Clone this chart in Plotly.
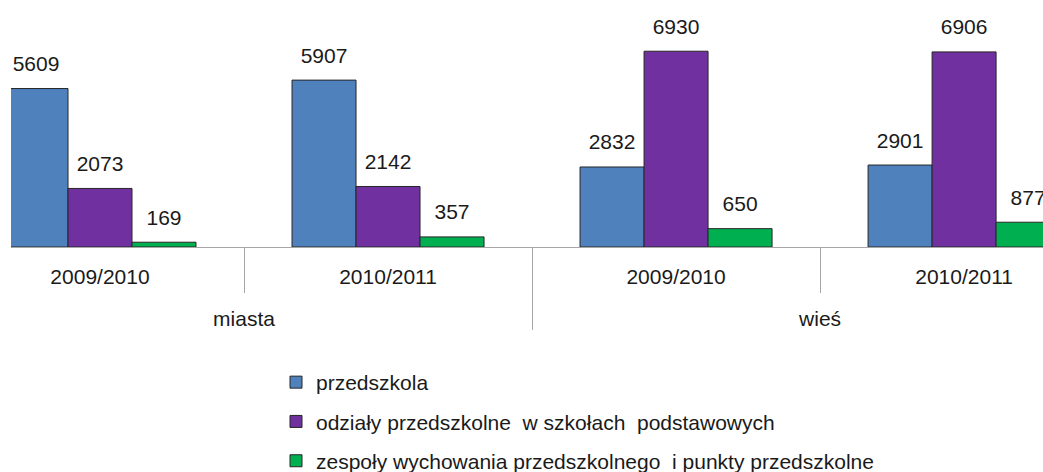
import plotly.graph_objects as go

areas = ["miasta", "miasta", "wieś", "wieś"]
years = ["2009/2010", "2010/2011", "2009/2010", "2010/2011"]
series_names = [
    "przedszkola",
    "odziały przedszkolne  w szkołach  podstawowych",
    "zespoły wychowania przedszkolnego  i punkty przedszkolne",
]
przedszkola = [5609, 5907, 2832, 2901]
odzialy = [2073, 2142, 6930, 6906]
zespoly = [169, 357, 650, 877]
colors = ["#4F81BD", "#7030A0", "#00B050"]

FONT = "Liberation Sans, Arial, sans-serif"
FS = 21
# empty first line pushes the outer category labels lower, as in the reference
x = [["<br>" + a for a in areas], years]

fig = go.Figure()
for i, (name, vals) in enumerate(zip(series_names, [przedszkola, odzialy, zespoly])):
    fig.add_trace(go.Bar(
        x=x, y=vals, name=name, offsetgroup=str(i), legendgroup=str(i),
        marker=dict(color=colors[i], line=dict(color="#262626", width=1)),
        hoverinfo="skip",
    ))
for i, vals in enumerate([przedszkola, odzialy, zespoly]):
    fig.add_trace(go.Scatter(
        x=x, y=vals, mode="markers+text", offsetgroup=str(i),
        text=[str(v) for v in vals], textposition="top center",
        textfont=dict(family=FONT, size=FS, color="#1a1a1a"),
        marker=dict(size=18, opacity=0), showlegend=False, hoverinfo="skip",
    ))

W, H = 1043, 472
L, B = 11, 225
PH = H - B
fig.update_layout(
    width=W, height=H,
    margin=dict(l=L, r=0, t=0, b=B, autoexpand=False),
    paper_bgcolor="white", plot_bgcolor="white",
    barmode="group", bargap=1/3, bargroupgap=0,
    scattermode="group", scattergap=1/3,
    font=dict(family=FONT, size=FS, color="#1a1a1a"),
    showlegend=True,
    hovermode=False,
    legend=dict(
        x=(276 - L) / (W - L), xanchor="left",
        y=(PH - 362) / PH, yanchor="top",
        bgcolor="rgba(0,0,0,0)", traceorder="grouped", tracegroupgap=9,
        font=dict(family=FONT, size=FS, color="#1a1a1a"),
    ),
    xaxis=dict(
        type="multicategory",
        range=[-0.309, 3.274],
        showline=True, linecolor="#a6a6a6", linewidth=1,
        ticks="outside", ticklen=45, tickcolor="#a6a6a6", tickson="boundaries",
        showdividers=True, dividercolor="#a6a6a6", dividerwidth=1,
        showgrid=False, zeroline=False,
        ticklabelstandoff=11,
        tickfont=dict(family=FONT, size=FS, color="#1a1a1a"),
    ),
    yaxis=dict(range=[0, 8743], visible=False, showgrid=False, zeroline=False),
)

fig.write_html(
    "out.html",
    config={"displayModeBar": False},
    post_script="document.body.style.margin='0';document.body.style.overflow='hidden';",
)
